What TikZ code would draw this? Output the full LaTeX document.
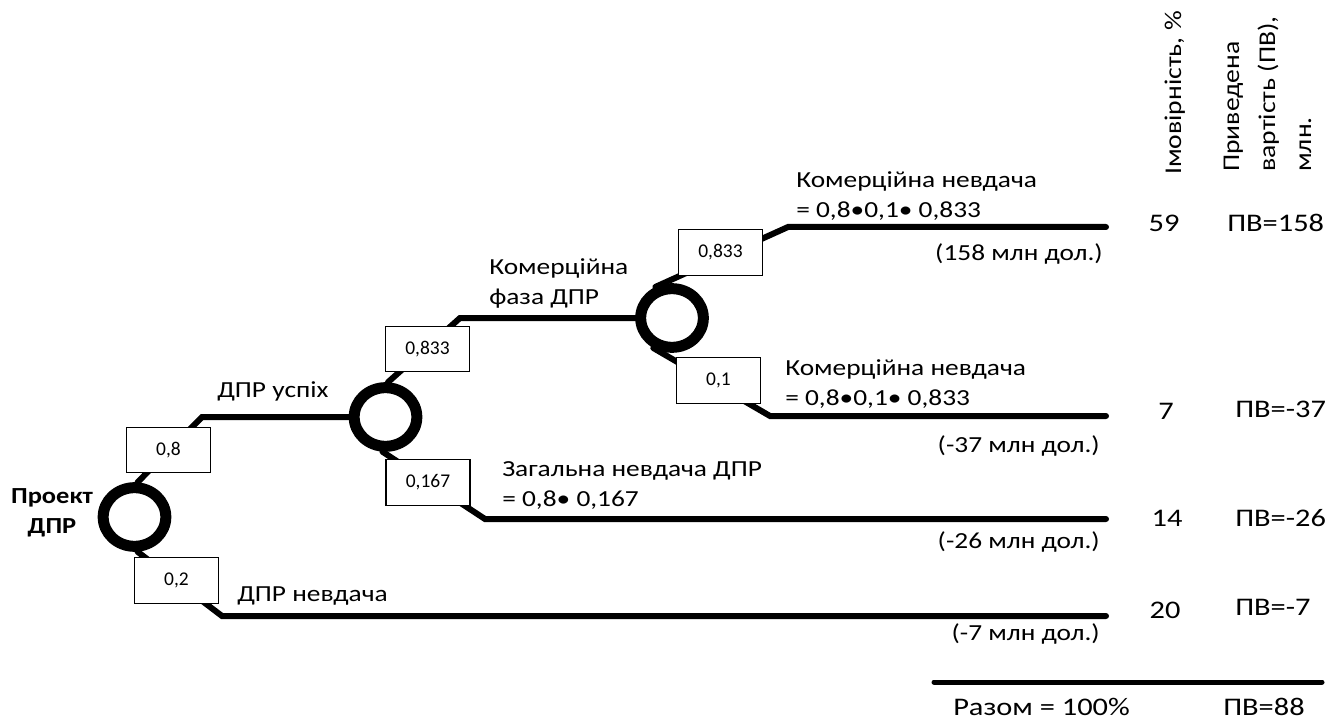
\documentclass[tikz,border=0pt]{standalone}
\usepackage{fontspec}
\setmainfont{Carlito}
\usetikzlibrary{shapes.geometric,backgrounds}
\newcommand{\fsz}[3]{\fontsize{#1}{#2}\selectfont\addfontfeatures{FakeStretch=#3}}
\begin{document}
\begin{tikzpicture}[x=0.75pt,y=-0.75pt,
  branch/.style={line width=4.5pt, line cap=round},
  ring/.style={ellipse, draw, line width=8.25pt, fill=white, minimum width=47pt, minimum height=44pt, inner sep=0pt},
  probbox/.style={draw, fill=white, line width=0.9pt, minimum width=63pt, minimum height=34pt, inner sep=0pt, font=\fontsize{14.6}{16}\selectfont},
  lbl/.style={font=\fsz{17.25}{22.5}{1.19}, inner sep=0pt, align=left},
  col/.style={inner sep=0pt, font=\fsz{19}{24}{1.2}},
  head/.style={inner sep=0pt, rotate=90, anchor=base west, align=left, font=\fsz{18}{27}{1.15}},
]
\useasboundingbox (0,0) rectangle (1341,720);

% chance nodes
\node[ring] (c1) at (134.5,517) {};
\node[ring] (c2) at (385.5,417) {};
\node[ring] (c3) at (672,318) {};

% probability boxes
\node[probbox] (b08)  at (168.5,450) {0,8};
\node[probbox] (b02)  at (176.5,580.5) {0,2};
\node[probbox] (b833a) at (427.5,349) {0,833};
\node[probbox] (b167) at (428,482.5) {0,167};
\node[probbox] (b833b) at (720.5,252.5) {0,833};
\node[probbox] (b01)  at (718.5,380.5) {0,1};

% free ends
\coordinate (e1) at (1106,227);
\coordinate (e2) at (1106,416);
\coordinate (e3) at (1106,519);
\coordinate (e4) at (1106,616);
\coordinate (t1) at (934,682);
\coordinate (t2) at (1322,682);

\begin{pgfonlayer}{background}
\draw[branch] (c1.85) -- (202,417) -- (c2);
\draw[branch] (c1.-85) -- (222,616) -- (e4);
\draw[branch] (c2.86) -- (460,318) -- (c3);
\draw[branch] (c2.-95) -- (485,519) -- (e3);
\draw[branch] (c3.118) -- (788,227) -- (e1);
\draw[branch] (c3.-122) -- (770,416) -- (e2);
\end{pgfonlayer}
\draw[line width=3.75pt, line cap=round] (t1) -- (t2);

% labels
\node[lbl, align=center, font=\fontsize{17.25}{22.5}\selectfont\bfseries\addfontfeatures{FakeStretch=1.15}] (root) at (52,513) {Проект\\ДПР};
\node[lbl, anchor=base west] (l1) at (217,397) {ДПР успіх};
\node[lbl, anchor=base west] (l2) at (489,304) {Комерційна\\фаза ДПР};
\node[lbl, anchor=base west] (l3) at (796,218) {Комерційна невдача\\= 0,8•0,1• 0,833};
\node[lbl, anchor=base east] (v1) at (1103,260) {(158 млн дол.)};
\node[lbl, anchor=base west] (l4) at (785,405) {Комерційна невдача\\= 0,8•0,1• 0,833};
\node[lbl, anchor=base east] (v2) at (1100,452) {(-37 млн дол.)};
\node[lbl, anchor=base west] (l5) at (502,506) {Загальна невдача ДПР\\= 0,8• 0,167};
\node[lbl, anchor=base east] (v3) at (1100,548) {(-26 млн дол.)};
\node[lbl, anchor=base west] (l6) at (237,601) {ДПР невдача};
\node[lbl, anchor=base east] (v4) at (1100,640) {(-7 млн дол.)};

% header columns
\node[head] (h1) at (1181,175) {Імовірність, \%};
\node[head] (h2) at (1311,172) {Приведена\\вартість (ПВ),\\млн.};

% values
\node[col, anchor=base] (p1) at (1164,232) {59};
\node[col, anchor=base] (p2) at (1166,419) {7};
\node[col, anchor=base] (p3) at (1167,526) {14};
\node[col, anchor=base] (p4) at (1165,618) {20};
\node[col, anchor=base west] (q1) at (1227,232) {ПВ=158};
\node[col, anchor=base west] (q2) at (1235,417) {ПВ=-37};
\node[col, anchor=base west] (q3) at (1235,526) {ПВ=-26};
\node[col, anchor=base west] (q4) at (1235,615) {ПВ=-7};
\node[col, anchor=base west] (s1) at (953,715) {Разом = 100\%};
\node[col, anchor=base west] (s2) at (1223,715) {ПВ=88};
\end{tikzpicture}
\end{document}
